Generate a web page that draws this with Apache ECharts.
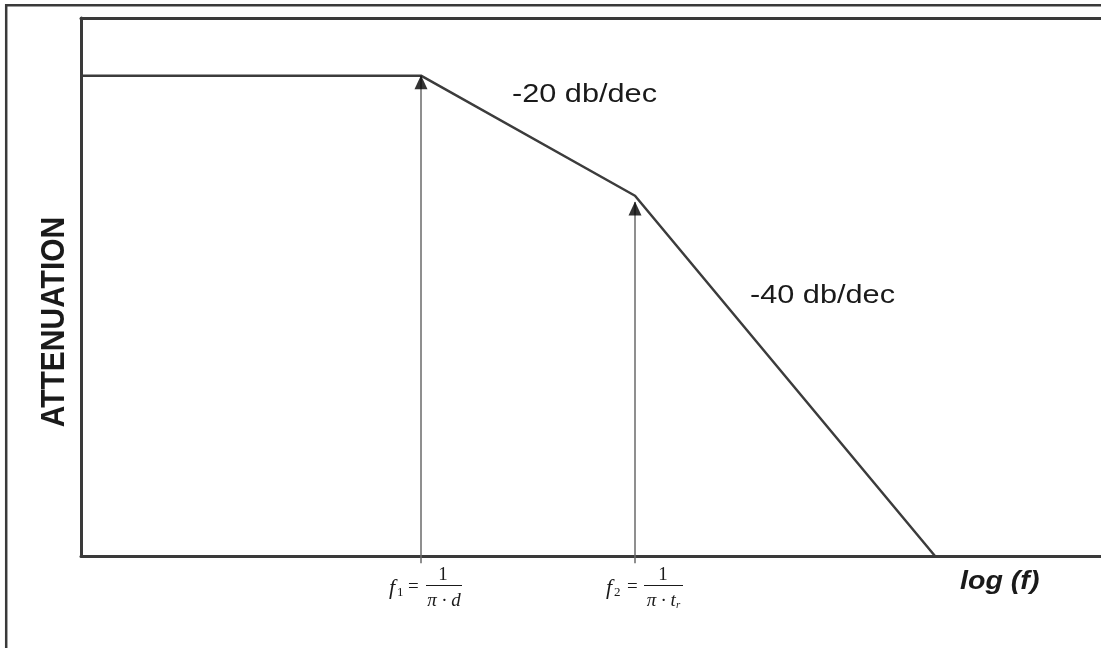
<!DOCTYPE html>
<html>
<head>
<meta charset="utf-8">
<script src="https://cdn.jsdelivr.net/npm/echarts@6/dist/echarts.min.js"></script>
<style>
html, body { margin: 0; padding: 0; background: #fff; }
#chart { width: 1101px; height: 648px; }
</style>
</head>
<body>
<div id="chart"></div>
<script>
// bode-style sketch: attenuation vs log(f)
var logF = [0, 1.70, 2.77, 4.27];
var attenuation = [0, 0, -25, -100];
var cornerLogF = [1.70, 2.77];
var arrowTips = [0, -26.3];
var slopeLabels = ['-20 db/dec', '-40 db/dec'];
var xName = 'log (f)';
var yName = 'ATTENUATION';

var chart = echarts.init(document.getElementById('chart'));

var curve = logF.map(function (v, i) { return [v, attenuation[i]]; });

var series = [{
    type: 'line',
    data: curve,
    symbol: 'none',
    lineStyle: { color: '#3c3c3c', width: 2.5 },
    z: 3
}];

cornerLogF.forEach(function (v, i) {
    series.push({
        type: 'line',
        data: [[v, -101.5], [v, arrowTips[i]]],
        symbol: 'none',
        clip: false,
        lineStyle: { color: '#6a6a6a', width: 1.5 },
        z: 2
    });
});

series.push({
    type: 'scatter',
    data: cornerLogF.map(function (v, i) { return [v, arrowTips[i]]; }),
    symbol: 'triangle',
    symbolSize: [13, 14],
    symbolOffset: [0, 6.5],
    itemStyle: { color: '#000' },
    z: 4
});

var axisLineStyle = { show: true, onZero: false, lineStyle: { color: '#3a3a3a', width: 3 } };
var hidden = { show: false };

var option = {
    animation: false,
    backgroundColor: '#fff',
    grid: { left: 81, top: 18, right: 0, height: 538 },
    xAxis: [{
        type: 'value', min: 0, max: 5.1, position: 'bottom',
        axisLine: axisLineStyle, axisTick: hidden,
        axisLabel: hidden, splitLine: hidden
    }, {
        type: 'value', min: 0, max: 5.1, position: 'top',
        axisLine: axisLineStyle, axisTick: hidden,
        axisLabel: hidden, splitLine: hidden
    }],
    yAxis: {
        type: 'value', min: -100, max: 12,
        axisLine: axisLineStyle, axisTick: hidden,
        axisLabel: hidden, splitLine: hidden
    },
    series: series
};

chart.setOption(option);

function txt(x, y, text, font, align, extra) {
    var el = {
        type: 'text', x: x, y: y, z: 10,
        style: {
            text: text, font: font, fill: '#1a1a1a',
            align: align, textAlign: align,
            verticalAlign: 'middle', textVerticalAlign: 'middle'
        }
    };
    for (var k in extra) el[k] = extra[k];
    return el;
}

var serif = '"Liberation Serif", "Times New Roman", serif';
var graphics = [{
    type: 'rect', z: 10,
    shape: { x: 6.2, y: 5.2, width: 1300, height: 900 },
    style: { fill: 'none', stroke: '#3a3a3a', lineWidth: 2.5 }
}];

graphics.push(txt(512, 95, slopeLabels[0], '26px "Liberation Sans", Arial, sans-serif', 'left', { scaleX: 1.18 }));
graphics.push(txt(750, 296, slopeLabels[1], '26px "Liberation Sans", Arial, sans-serif', 'left', { scaleX: 1.18 }));
graphics.push(txt(960, 582, xName, 'italic bold 26px "Liberation Sans", Arial, sans-serif', 'left', { scaleX: 1.1 }));
graphics.push(txt(55, 322, yName, 'bold 30px "Liberation Sans", Arial, sans-serif', 'center', { rotation: Math.PI / 2, scaleY: 1.12 }));

// formula labels under the corner frequencies
var formulas = [
    { sub: '1', fOff: -32, eqOff: -13, bar: [5, 41], num: 22, den: '{i|π · d}' },
    { sub: '2', fOff: -29, eqOff: -8, bar: [9, 48], num: 28, den: '{i|π · t}{s|r}' }
];
cornerLogF.forEach(function (v, i) {
    var px = chart.convertToPixel({ xAxisIndex: 0 }, v);
    var f = formulas[i];
    graphics.push(txt(px + f.fOff, 588, 'f', 'italic 22px ' + serif, 'left'));
    graphics.push(txt(px + f.fOff + 8, 593, f.sub, '13px ' + serif, 'left'));
    graphics.push(txt(px + f.eqOff, 587, '=', '19px ' + serif, 'left'));
    graphics.push(txt(px + f.num, 575, '1', '19px ' + serif, 'center'));
    graphics.push({
        type: 'line', z: 10,
        shape: { x1: px + f.bar[0], y1: 585.5, x2: px + f.bar[1], y2: 585.5 },
        style: { stroke: '#1a1a1a', lineWidth: 1 }
    });
    graphics.push({
        type: 'text', x: px + (f.bar[0] + f.bar[1]) / 2, y: 601, z: 10,
        style: {
            text: f.den, align: 'center', textAlign: 'center',
            verticalAlign: 'middle', textVerticalAlign: 'middle',
            fill: '#1a1a1a',
            rich: {
                i: { fontFamily: serif, fontStyle: 'italic', fontSize: 19, fill: '#1a1a1a', color: '#1a1a1a' },
                s: { fontFamily: serif, fontStyle: 'italic', fontSize: 11, fill: '#1a1a1a', color: '#1a1a1a', padding: [9, 0, 0, 0] }
            }
        }
    });
});

chart.setOption({ graphic: graphics });
</script>
</body>
</html>
